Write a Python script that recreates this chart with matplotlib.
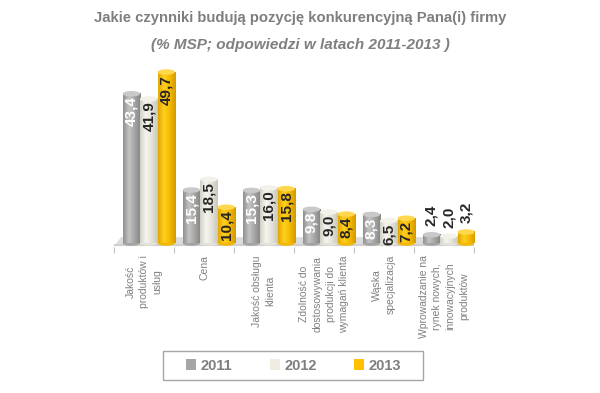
import matplotlib
matplotlib.use('Agg')
import matplotlib.pyplot as plt
import numpy as np
from matplotlib.patches import Ellipse, Polygon, Patch, Rectangle
from matplotlib.colors import LinearSegmentedColormap

categories = [
    'Jakość\nproduktów i\nusług',
    'Cena',
    'Jakość obsługu\nklienta',
    'Zdolność do\ndostosowywania\nprodukcji do\nwymagań klienta',
    'Wąska\nspecjalizacja',
    'Wprowadzanie na\nrynek nowych,\ninnowacyjnych\nproduktów',
]
years = ['2011', '2012', '2013']
values_2011 = [43.4, 15.4, 15.3, 9.8, 8.3, 2.4]
values_2012 = [41.9, 18.5, 16.0, 9.0, 6.5, 2.0]
values_2013 = [49.7, 10.4, 15.8, 8.4, 7.2, 3.2]

plt.rcParams['font.family'] = ['Liberation Sans', 'DejaVu Sans']

# gradient (left, highlight, mid, right), cap, legend colour, label colour
styles = [
    (['#8f8f8f', '#c4c4c4', '#a3a3a3', '#858585'], '#c9c9c9', '#a6a6a6', 'white'),
    (['#d2d0c4', '#f6f5f0', '#e4e2d8', '#c9c7ba'], '#f2f1ea', '#eeece1', '#262626'),
    (['#e0a600', '#ffd020', '#f5b800', '#d19a00'], '#ffd84d', '#ffc000', '#262626'),
]
offsets = [-0.21, 0.08, 0.37]
bar_w = 0.29

fig = plt.figure(figsize=(6, 3.93), dpi=100)
ax = fig.add_axes([0.19, 0.3715, 0.60, 0.4916])

# floor of the 3d chart
ax.add_patch(Polygon([(-0.5, -0.9), (5.5, -0.9), (5.65, 1.7), (-0.38, 1.7)],
                     closed=True, facecolor='#dcdcdc', edgecolor='none', zorder=1))
ax.add_patch(Polygon([(-0.5, -0.9), (5.5, -0.9), (5.5, -0.4), (-0.5, -0.4)],
                     closed=True, facecolor='#cfcfcf', edgecolor='none', zorder=1))

all_values = [values_2011, values_2012, values_2013]
for s, vals in enumerate(all_values):
    grad, cap, _, txt_color = styles[s]
    cmap = LinearSegmentedColormap.from_list('c%d' % s, grad)
    g = np.linspace(0, 1, 64).reshape(1, -1)
    for i, v in enumerate(vals):
        x0 = i + offsets[s] - bar_w / 2
        x1 = x0 + bar_w
        ax.add_patch(Ellipse((i + offsets[s], 0), bar_w, 1.6,
                             facecolor=grad[2], edgecolor='none', zorder=2 + s))
        ax.imshow(g, cmap=cmap, extent=[x0, x1, 0, v], aspect='auto',
                  zorder=2 + s, interpolation='bicubic')
        ax.add_patch(Ellipse((i + offsets[s], v), bar_w, 1.6,
                             facecolor=cap, edgecolor='none', zorder=2.5 + s))
        label = ('%.1f' % v).replace('.', ',')
        if v < 5:
            ax.text(i + offsets[s], v + 2.5, label, rotation=90, ha='center',
                    va='bottom', fontsize=11, fontweight='bold',
                    color='#262626', zorder=10)
        else:
            ax.text(i + offsets[s], v - 0.8, label, rotation=90, ha='center',
                    va='top', fontsize=11, fontweight='bold',
                    color=txt_color, zorder=10)

ax.set_xlim(-0.5, 5.5)
ax.set_ylim(-1.16, 55)
ax.set_xticks(np.arange(0, 7) - 0.5)
ax.set_xticklabels([])
ax.tick_params(axis='x', length=4, color='#bfbfbf', direction='out')
ax.set_yticks([])
for sp in ax.spines.values():
    sp.set_visible(False)

for i, cat in enumerate(categories):
    ax.text(i, -3.5, cat, rotation=90, ha='center', va='top',
            multialignment='center', fontsize=7.5, color='#808080',
            linespacing=1.4)

fig.text(0.5, 1 - 18 / 393, 'Jakie czynniki budują pozycję konkurencyjną Pana(i) firmy',
         ha='center', va='center', fontsize=10.7, fontweight='bold', color='#7f7f7f')
fig.text(0.5, 1 - 45 / 393, '(% MSP; odpowiedzi w latach 2011-2013 )',
         ha='center', va='center', fontsize=11, fontweight='bold',
         fontstyle='italic', color='#7f7f7f')

# legend box drawn separately so the padding can be wider than the spacing
fig.add_artist(Rectangle((163 / 600, 1 - 380 / 393), 260 / 600, 29 / 393,
                         transform=fig.transFigure, facecolor='white',
                         edgecolor='#a6a6a6', linewidth=1.0))
handles = [Patch(facecolor=styles[k][2], edgecolor='none', label=years[k])
           for k in range(3)]
leg = fig.legend(handles=handles, loc='center', bbox_to_anchor=(293.5 / 600, 1 - 365.5 / 393),
                 ncol=3, frameon=False, fontsize=10.5,
                 handlelength=0.7, handleheight=0.7, handletextpad=0.3,
                 columnspacing=2.55, borderpad=0.3, borderaxespad=0)
for t in leg.get_texts():
    t.set_color('#7f7f7f')
    t.set_fontweight('bold')

plt.savefig('out.png', dpi=100)
